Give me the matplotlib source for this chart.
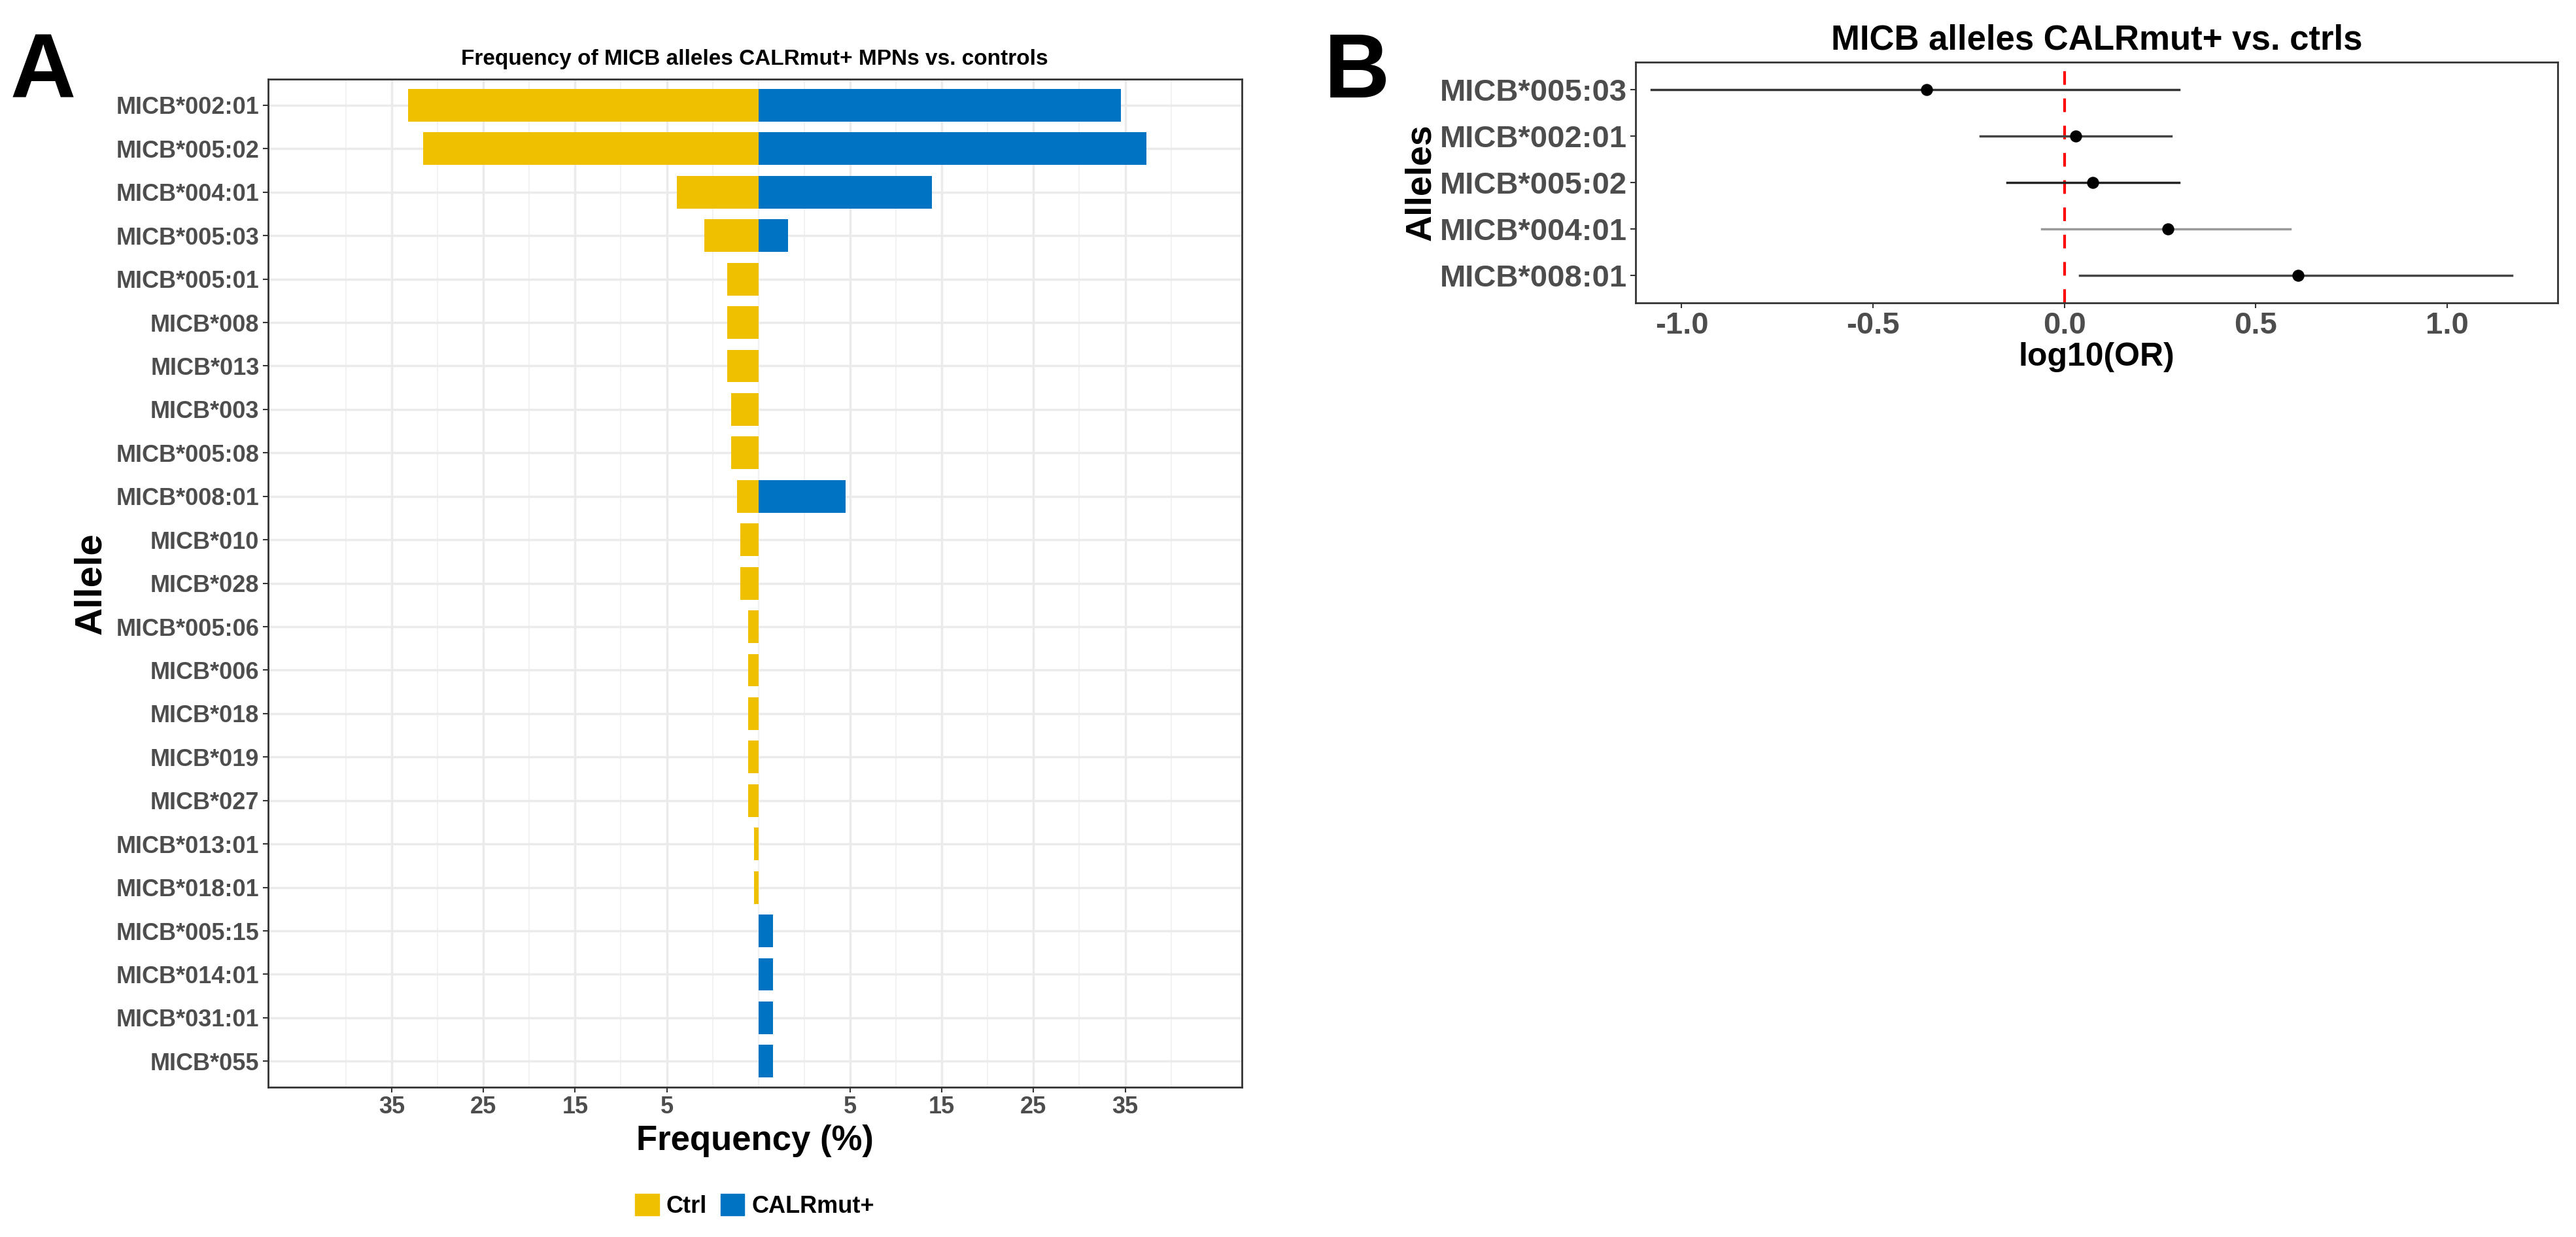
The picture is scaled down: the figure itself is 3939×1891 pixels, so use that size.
import numpy as np
import matplotlib
matplotlib.use("Agg")
import matplotlib.pyplot as plt
from matplotlib.patches import Patch

plt.rcParams['font.family'] = ['Liberation Sans', 'DejaVu Sans']

# panel A data
alleles = ["MICB*002:01", "MICB*005:02", "MICB*004:01", "MICB*005:03", "MICB*005:01",
           "MICB*008", "MICB*013", "MICB*003", "MICB*005:08", "MICB*008:01", "MICB*010",
           "MICB*028", "MICB*005:06", "MICB*006", "MICB*018", "MICB*019", "MICB*027",
           "MICB*013:01", "MICB*018:01", "MICB*005:15", "MICB*014:01", "MICB*031:01", "MICB*055"]
ctrl = [38.2, 36.6, 8.9, 5.9, 3.4, 3.4, 3.4, 3.0, 3.0, 2.3, 2.0, 2.0, 1.1, 1.1, 1.1, 1.1, 1.1,
        0.5, 0.5, 0, 0, 0, 0]
calr = [39.5, 42.3, 18.9, 3.2, 0, 0, 0, 0, 0, 9.5, 0, 0, 0, 0, 0, 0, 0, 0, 0, 1.6, 1.6, 1.6, 1.6]
tick_pos = [-40, -30, -20, -10, 10, 20, 30, 40]
tick_lab = ["35", "25", "15", "5", "5", "15", "25", "35"]

# panel B data
or_alleles = ["MICB*005:03", "MICB*002:01", "MICB*005:02", "MICB*004:01", "MICB*008:01"]
log_or = [-0.36, 0.03, 0.075, 0.27, 0.61]
ci_low = [-1.08, -0.22, -0.15, -0.06, 0.04]
ci_high = [0.30, 0.28, 0.30, 0.59, 1.17]
ci_col = ["#333333", "#444444", "#222222", "#999999", "#444444"]

YEL = "#EFC000"
BLU = "#0073C2"
TXT = "#4D4D4D"

fig = plt.figure(figsize=(39.39, 18.91), dpi=100)

# ---- panel A
ax = fig.add_axes([0.104, 0.121, 0.378, 0.815])
y = np.arange(len(alleles))
ax.barh(y, [-v for v in ctrl], height=0.75, color=YEL, zorder=3)
ax.barh(y, calr, height=0.75, color=BLU, zorder=3)
ax.set_ylim(len(alleles) - 0.4, -0.6)
ax.set_xlim(-53.5, 52.7)
ax.set_yticks(y)
ax.set_yticklabels(alleles, fontsize=26, fontweight='bold', color=TXT)
ax.set_xticks(tick_pos)
ax.set_xticklabels(tick_lab, fontsize=26, fontweight='bold', color=TXT)
ax.set_xticks([-45, -35, -25, -15, -5, 0, 5, 15, 25, 35, 45], minor=True)
ax.grid(True, which='major', color='#EBEBEB', lw=2.5, zorder=0)
ax.grid(True, which='minor', axis='x', color='#F2F2F2', lw=1.5, zorder=0)
ax.tick_params(which='minor', length=0)
ax.tick_params(which='major', length=6, width=1.5, color='#333333')
for s in ax.spines.values():
    s.set_color('#333333')
    s.set_linewidth(2)
ax.set_xlabel("Frequency (%)", fontsize=38, fontweight='bold', labelpad=6)
ax.set_ylabel("Allele", fontsize=42, fontweight='bold', labelpad=8)
ax.set_title("Frequency of MICB alleles CALRmut+ MPNs vs. controls", fontsize=24,
             fontweight='bold', pad=16)
fig.legend(handles=[Patch(color=YEL, label="Ctrl"), Patch(color=BLU, label="CALRmut+")],
           loc='center', bbox_to_anchor=(0.293, 0.025), ncol=2, frameon=False,
           fontsize=26, prop={'weight': 'bold', 'size': 26}, handlelength=1.0,
           handleheight=1.0, columnspacing=0.6, handletextpad=0.3)

# ---- panel B
bx = fig.add_axes([0.635, 0.755, 0.358, 0.195])
yb = np.arange(len(or_alleles))
for i in range(len(or_alleles)):
    bx.plot([ci_low[i], ci_high[i]], [yb[i], yb[i]], color=ci_col[i], lw=2.5, zorder=2)
bx.scatter(log_or, yb, s=150, color='black', zorder=3)
bx.axvline(0, color='red', ls=(0, (5, 5)), lw=3, zorder=1)
bx.set_ylim(len(or_alleles) - 0.4, -0.6)
bx.set_xlim(-1.12, 1.29)
bx.set_yticks(yb)
bx.set_yticklabels(or_alleles, fontsize=34, fontweight='bold', color=TXT)
bx.set_xticks([-1.0, -0.5, 0.0, 0.5, 1.0])
bx.set_xticklabels(["-1.0", "-0.5", "0.0", "0.5", "1.0"], fontsize=34, fontweight='bold', color=TXT)
bx.tick_params(length=6, width=1.5, color='#333333')
for s in bx.spines.values():
    s.set_color('#333333')
    s.set_linewidth(2)
bx.set_xlabel("log10(OR)", fontsize=36, fontweight='bold', labelpad=2)
bx.set_ylabel("Alleles", fontsize=40, fontweight='bold', labelpad=2)
bx.set_title("MICB alleles CALRmut+ vs. ctrls", fontsize=38, fontweight='bold', pad=14)

fig.text(0.004, 0.94, "A", fontsize=100, fontweight='bold', va='center')
fig.text(0.514, 0.94, "B", fontsize=100, fontweight='bold', va='center')

fig.savefig("out.png", dpi=100)
